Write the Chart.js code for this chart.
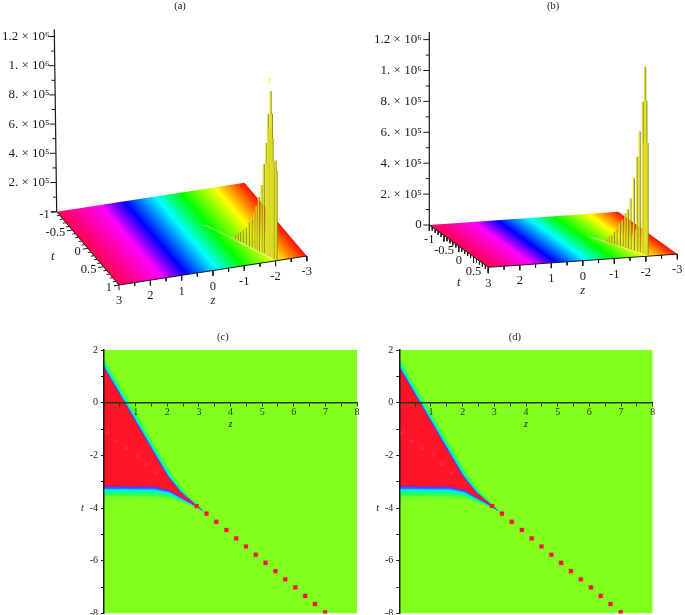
<!DOCTYPE html>
<html>
<head>
<meta charset="utf-8">
<title>Superficies y mapas de densidad</title>
<script src="https://cdn.jsdelivr.net/npm/chart.js@4"></script>
<style>
html, body { margin: 0; background: #fff; }
body { position: relative; width: 685px; height: 615px; overflow: hidden; }
canvas { position: absolute; filter: blur(0.45px); }
</style>
</head>
<body>
<canvas id="panelA" width="340" height="310" style="left:0;top:0"></canvas>
<canvas id="panelB" width="345" height="310" style="left:340px;top:0"></canvas>
<canvas id="panelC" width="305" height="288" style="left:60px;top:330px"></canvas>
<canvas id="panelD" width="320" height="288" style="left:365px;top:330px"></canvas>
<script>
// paneles 3D
const marcasAltura = [0, 1e5, 2e5, 3e5, 4e5, 5e5, 6e5, 7e5, 8e5, 9e5, 1e6, 11e5, 12e5];
const rotulosAlturaA = ['', '', '2. × 10⁵', '', '4. × 10⁵', '', '6. × 10⁵', '', '8. × 10⁵', '', '1. × 10⁶', '', '1.2 × 10⁶'];
const rotulosAlturaB = ['0', '', '2. × 10⁵', '', '4. × 10⁵', '', '6. × 10⁵', '', '8. × 10⁵', '', '1. × 10⁶', '', '1.2 × 10⁶'];
const marcasZ3d = [3, 2.5, 2, 1.5, 1, 0.5, 0, -0.5, -1, -1.5, -2, -2.5, -3];
const marcasT3d = [-1, -0.9, -0.8, -0.7, -0.6, -0.5, -0.4, -0.3, -0.2, -0.1, 0, 0.1, 0.2, 0.3, 0.4, 0.5, 0.6, 0.7, 0.8, 0.9, 1];
const rotulosZ3d = [3, 2, 1, 0, -1, -2, -3];
const rotulosT3dA = [-1, -0.5, 0, 0.5, 1];
const rotulosT3dB = [-1, -0.5, 0, 0.5];
const arcoirisZ = [3, 1.6, 0.85, -0.15, -0.95, -2.05, -3];
const arcoirisColor = ['#ff0050', '#ff00ff', '#0000ff', '#00ffff', '#00ff00', '#ffff00', '#ff1000'];

const picosAZ = [-1.35, -1.40, -1.44, -1.48, -1.53, -1.58, -1.63, -1.67, -1.71, -1.74, -1.79, -1.83, -1.87, -1.88, -1.90, -1.92, -1.94, -1.96, -1.97, -1.99, -2.02, -2.04];
const picosAT = [0.33, 0.37, 0.41, 0.45, 0.50, 0.55, 0.59, 0.64, 0.67, 0.71, 0.75, 0.78, 0.82, 0.84, 0.85, 0.87, 0.89, 0.91, 0.92, 0.94, 0.97, 0.98];
const picosAU = [30000, 51000, 67000, 92000, 119000, 162000, 190000, 245000, 300000, 373000, 463000, 614000, 766000, 633000, 970000, 877000, 1137000, 984000, 822000, 668000, 681000, 610000];
const puntaAZ = [-1.93, -1.93];
const puntaAT = [0.88, 0.88];
const puntaAU = [1190000, 1224000];
const abanicoAZ = [-1.5, -2.0, -2.0, -1.71];
const abanicoAT = [0.45, 0.95, 0.95, 0.67];
const abanicoAU = [0, 0, 200000, 70000];
const columnaAZ = [-1.97, -2.05, -2.05, -1.97];
const columnaAT = [0.92, 1.0, 1.0, 0.92];
const columnaAU = [0, 0, 600000, 640000];
const estelaAZ = [-0.87, -1.42, -1.97];
const estelaAT = [-0.13, 0.39, 0.92];

const picosBZ = [-1.42, -1.46, -1.50, -1.55, -1.59, -1.64, -1.69, -1.73, -1.77, -1.81, -1.87, -1.92, -1.96, -2.01, -2.03, -2.05, -2.07, -2.09, -2.08];
const picosBT = [0.26, 0.30, 0.35, 0.39, 0.43, 0.49, 0.53, 0.58, 0.62, 0.67, 0.72, 0.78, 0.82, 0.87, 0.90, 0.91, 0.93, 0.95, 0.94];
const picosBU = [23000, 39000, 55000, 82000, 103000, 149000, 177000, 225000, 256000, 332000, 469000, 615000, 783000, 982000, 718000, 1214000, 997000, 725000, 640000];
const abanicoBZ = [-1.5, -2.07, -2.07, -1.81];
const abanicoBT = [0.35, 0.93, 0.93, 0.67];
const abanicoBU = [0, 0, 260000, 80000];
const columnaBZ = [-2.03, -2.09, -2.09, -2.03];
const columnaBT = [0.90, 0.97, 0.97, 0.90];
const columnaBU = [0, 0, 550000, 590000];
const estelaBZ = [-1.17, -1.63, -2.09];
const estelaBT = [0, 0.47, 0.95];

// paneles de densidad
const fondoZ = [0, 8, 8, 0];
const fondoT = [2, 2, -8, -8];
const bordeSupZ = [-0.3, 0.64, 1.98, 2.4, 2.92, 3.12];
const bordeSupT = [1.93, 0, -2.75, -3.38, -3.9, -4.1];
const atenuaSup = [1, 1, 1, 0.8, 0.35, 0.1];
const bordeInfZ = [3.12, 2.92, 2.5, 2.08, 1.6, -0.3];
const bordeInfT = [-4.1, -3.93, -3.63, -3.32, -3.17, -3.15];
const atenuaInf = [0.08, 0.12, 0.4, 0.75, 1, 1];
const capasColor = ['#6dff28', '#38ff48', '#08ff90', '#00e8f0', '#2f6cff', '#7a28e8', '#ff1428'];
const capasZ = [0.24, 0.17, 0.115, 0.075, 0.045, 0.02, 0];
const capasT = [0.48, 0.38, 0.28, 0.20, 0.12, 0.06, 0];
const puntosZ = [2.93, 3.24, 3.55, 3.87, 4.18, 4.49, 4.80, 5.11, 5.42, 5.73, 6.05, 6.36, 6.67, 6.99];
const puntosT = [-3.92, -4.21, -4.52, -4.83, -5.15, -5.46, -5.77, -6.08, -6.39, -6.70, -7.01, -7.33, -7.64, -7.95];
const tenuesZ = [0.09, 0.40, 0.72, 1.04, 1.35, 1.67];
const tenuesT = [-1.13, -1.45, -1.74, -2.02, -2.34, -2.66];
const rotulosMapaX = [1, 2, 3, 4, 5, 6, 7, 8];
const rotulosMapaY = [2, 0, -2, -4, -6, -8];

const serif = '"Liberation Serif", serif';
const negro = '#1a1a1a';
const sinAjuste = s => { s.paddingLeft = s.paddingRight = s.paddingTop = s.paddingBottom = 0; };

// textos sueltos colocados con las escalas del grafico
const rotulos = {
    id: 'rotulos',
    afterDraw(chart, args, opts) {
        const ctx = chart.ctx;
        ctx.save();
        ctx.fillStyle = negro;
        ctx.textBaseline = 'middle';
        (opts.items || []).forEach(r => {
            ctx.font = r.font;
            ctx.textAlign = r.align || 'center';
            ctx.fillText(r.text, chart.scales.x.getPixelForValue(r.x) + (r.dx || 0), chart.scales.y.getPixelForValue(r.y) + (r.dy || 0));
        });
        ctx.restore();
    }
};

function proyectar(v, z, t, u = 0) {
    return {
        x: v.ox + v.zx * (3 - z) + v.tx * (t + 1) + v.skew * u,
        y: u - (v.zy * (3 - z) + v.ty * (t + 1)) / v.k
    };
}

function linea(data, color, ancho) {
    return { data, borderColor: color, borderWidth: ancho, pointRadius: 0, fill: false, tension: 0 };
}

function forma(data, color) {
    return { data, backgroundColor: color, borderColor: color, borderWidth: 0, pointRadius: 0, fill: 'shape', tension: 0 };
}

function crearSuperficie(id, v, d) {
    const alto = 310, ancho = document.getElementById(id).width;
    const esquinas = [[3, -1], [-3, -1], [-3, 1], [3, 1]].map(([z, t]) => proyectar(v, z, t));
    const sobreSuelo = (z, t, u) => ({ x: proyectar(v, z, t).x, y: proyectar(v, z, t, u).y });

    // degradado perpendicular a las bandas de color
    const arcoiris = ctx => {
        const { x, y } = ctx.chart.scales;
        if (!x || !y || !ctx.chart.chartArea) return '#fff';
        const px = p => ({ x: x.getPixelForValue(p.x), y: y.getPixelForValue(p.y) });
        const a = px(proyectar(v, 3, -1)), b = px(proyectar(v, -3, -1)), c = px(proyectar(v, 3, 1));
        const tl = Math.hypot(c.x - a.x, c.y - a.y);
        const nx = -(c.y - a.y) / tl, ny = (c.x - a.x) / tl;
        const largo = (b.x - a.x) * nx + (b.y - a.y) * ny;
        if (![a.x, a.y, nx, ny, largo].every(Number.isFinite)) return '#fff';
        const g = ctx.chart.ctx.createLinearGradient(a.x, a.y, a.x + nx * largo, a.y + ny * largo);
        arcoirisZ.forEach((z, i) => g.addColorStop((3 - z) / 6, arcoirisColor[i]));
        return g;
    };

    const marcasZ = [], marcasT = [], marcasU = [];
    marcasZ3d.forEach(z => marcasZ.push(proyectar(v, z, 1), proyectar(v, z + d.marcaZ[0], 1 + d.marcaZ[1], d.marcaZ[2] * (Number.isInteger(z) ? 1.5 : 1)), { x: null, y: null }));
    marcasT3d.forEach(t => {
        const larga = Number.isInteger(t * 2) ? 1.7 : 1;
        marcasT.push(proyectar(v, 3, t), proyectar(v, 3 + d.marcaT[0] * larga, t + d.marcaT[1], d.marcaT[2] * larga), { x: null, y: null });
    });
    marcasAltura.forEach((u, i) => {
        const p = proyectar(v, 3, -1, u);
        marcasU.push(p, { x: p.x - (i % 2 ? 3.5 : 6), y: p.y }, { x: null, y: null });
    });

    const picoClaro = [], picoOscuro = [];
    d.picosZ.forEach((z, i) => {
        const b = sobreSuelo(z, d.picosT[i], 0), c = sobreSuelo(z, d.picosT[i], d.picosU[i]);
        picoOscuro.push({ x: b.x + 0.9, y: b.y }, { x: c.x + 0.9, y: c.y }, { x: null, y: null });
        picoClaro.push(b, c, { x: null, y: null });
    });
    const estela = d.estelaZ.map((z, i) => proyectar(v, z, d.estelaT[i]));

    // en orden de pintado, de atras hacia delante
    const capas = [
        forma(esquinas, arcoiris),
        linea([proyectar(v, 3, -1), proyectar(v, 3, 1), proyectar(v, -3, 1)], negro, 1),
        linea(marcasZ, negro, 1),
        linea(marcasT, negro, 1),
        linea(estela, 'rgba(255,255,225,0.4)', 1.4),
        linea(estela.slice(1), 'rgba(255,255,225,0.45)', 2),
        forma(d.abanicoZ.map((z, i) => sobreSuelo(z, d.abanicoT[i], d.abanicoU[i])), 'rgba(240,240,70,0.5)'),
        forma(d.columnaZ.map((z, i) => sobreSuelo(z, d.columnaT[i], d.columnaU[i])), '#d2d22a'),
        linea(picoOscuro, '#8c8c04', 1.2),
        linea(picoClaro, '#dede28', 1.2),
        linea([proyectar(v, 3, -1), proyectar(v, 3, -1, 1.25e6)], negro, 1.2),
        linea(marcasU, negro, 1)
    ];
    if (d.puntaZ) capas.push(linea(d.puntaZ.map((z, i) => sobreSuelo(z, d.puntaT[i], d.puntaU[i])), '#f6f650', 1.6));

    const items = [{ text: d.titulo, x: d.tituloX, y: (v.oy - 6) / v.k, font: '10.5px ' + serif }];
    rotulosZ3d.forEach(z => {
        const p = proyectar(v, z, 1);
        items.push({ text: String(z), x: p.x, y: p.y, dy: 16, font: d.fuente + ' ' + serif });
    });
    d.rotulosT.forEach(t => {
        const p = proyectar(v, 3, t);
        items.push({ text: String(t), x: p.x, y: p.y, dx: d.rotuloT[0], dy: d.rotuloT[1], align: d.rotuloT[2], font: d.fuente + ' ' + serif });
    });
    const pz = proyectar(v, 0, 1), pt = proyectar(v, 3, 0);
    items.push({ text: 'z', x: pz.x, y: pz.y, dy: 30, font: 'italic ' + d.fuente + ' ' + serif });
    items.push({ text: 't', x: pt.x, y: pt.y, dx: d.letraT[0], dy: d.letraT[1], font: 'italic ' + d.fuente + ' ' + serif });

    return new Chart(document.getElementById(id), {
        type: 'line',
        plugins: [rotulos],
        data: { datasets: capas.reverse() },
        options: {
            responsive: false,
            animation: false,
            layout: { padding: 0 },
            plugins: { legend: { display: false }, tooltip: { enabled: false }, rotulos: { items } },
            scales: {
                x: { type: 'linear', min: 0, max: ancho, display: false },
                y: {
                    type: 'linear',
                    min: (v.oy - alto) / v.k,
                    max: v.oy / v.k,
                    // los rotulos terminan a la izquierda de las marcas
                    position: { x: d.finRotulos },
                    border: { display: false },
                    grid: { drawOnChartArea: false, drawTicks: false },
                    afterFit: s => { s.width = 0; sinAjuste(s); },
                    afterBuildTicks: s => { s.ticks = marcasAltura.map(value => ({ value })); },
                    ticks: {
                        autoSkip: false,
                        padding: 0,
                        z: 1,
                        color: negro,
                        font: { family: serif, size: 13 },
                        callback: (val, i) => d.rotulosAltura[i]
                    }
                }
            }
        }
    });
}

function crearMapa(id, yAncho, padDer, titulo, tituloZ) {
    const mancha = capasColor.map((color, c) => {
        const sup = bordeSupZ.map((z, i) => ({ x: z + capasZ[c] * atenuaSup[i], y: bordeSupT[i] }));
        const inf = bordeInfZ.map((z, i) => ({ x: z, y: bordeInfT[i] - capasT[c] * atenuaInf[i] }));
        return forma(sup.concat(inf), color);
    });
    const capas = [forma(fondoZ.map((z, i) => ({ x: z, y: fondoT[i] })), '#82ff1c')].concat(mancha);
    capas.push({
        data: tenuesZ.map((z, i) => ({ x: z, y: tenuesT[i] })),
        showLine: false, pointStyle: 'rect', pointRadius: 2.4, pointBorderWidth: 0,
        pointBackgroundColor: 'rgba(255,70,130,0.35)'
    });
    capas.push({
        data: puntosZ.map((z, i) => ({ x: z, y: puntosT[i] })),
        showLine: false, pointStyle: 'rect', pointRadius: 2.9, pointBorderWidth: 0.5,
        pointBackgroundColor: '#ff1030', pointBorderColor: 'rgba(220,70,110,0.6)'
    });

    const items = [
        { text: titulo, x: tituloZ, y: 2.47, font: '10.5px ' + serif },
        { text: 'z', x: 4, y: -0.83, font: 'italic 10px ' + serif },
        { text: 't', x: -0.68, y: -4, font: 'italic 10px ' + serif }
    ];

    return new Chart(document.getElementById(id), {
        type: 'line',
        plugins: [rotulos],
        data: { datasets: capas.reverse() },
        options: {
            responsive: false,
            animation: false,
            layout: { padding: { top: 20, bottom: 0, right: padDer, left: 0 } },
            plugins: { legend: { display: false }, tooltip: { enabled: false }, rotulos: { items } },
            scales: {
                x: {
                    type: 'linear', min: 0, max: 8,
                    position: { y: 0 },
                    border: { color: '#1c3c00', width: 1.5, z: 1 },
                    grid: { drawOnChartArea: false, drawTicks: true, tickLength: 3, color: '#1c3c00', z: 1 },
                    afterFit: s => { s.height = 0; sinAjuste(s); },
                    ticks: {
                        stepSize: 0.5, autoSkip: false, maxRotation: 0, padding: 1, color: '#1c3c00', z: 1,
                        font: { family: serif, size: 10 },
                        callback: v => rotulosMapaX.includes(v) ? String(v) : ''
                    }
                },
                y: {
                    type: 'linear', min: -8, max: 2,
                    border: { color: negro, width: 1.5, z: 1 },
                    grid: { drawOnChartArea: false, drawTicks: true, tickLength: 3, color: negro, z: 1 },
                    afterFit: s => { s.width = yAncho; sinAjuste(s); },
                    ticks: {
                        stepSize: 1, autoSkip: false, padding: 3, color: negro, z: 1,
                        font: { family: serif, size: 10 },
                        callback: v => rotulosMapaY.includes(v) ? String(v) : ''
                    }
                }
            }
        }
    });
}

crearSuperficie('panelA',
    { ox: 56.7, oy: 211.7, zx: 31.3, zy: -4.83, tx: 31.15, ty: 36.65, k: 29.2 / 2e5, skew: -2.4 / 1.25e6 },
    {
        titulo: '(a)', tituloX: 180, fuente: '12.5px', finRotulos: 49.5,
        rotulosAltura: rotulosAlturaA, rotulosT: rotulosT3dA, rotuloT: [-7, 3, 'right'], letraT: [-35, 8],
        marcaZ: [0, 0, -3.5 / (29.2 / 2e5)], marcaT: [0.1, 0, 0],
        picosZ: picosAZ, picosT: picosAT, picosU: picosAU,
        puntaZ: puntaAZ, puntaT: puntaAT, puntaU: puntaAU,
        abanicoZ: abanicoAZ, abanicoT: abanicoAT, abanicoU: abanicoAU,
        columnaZ: columnaAZ, columnaT: columnaAT, columnaU: columnaAU,
        estelaZ: estelaAZ, estelaT: estelaAT
    });

crearSuperficie('panelB',
    { ox: 89.3, oy: 225, zx: 31.5, zy: -2.2, tx: 29.5, ty: 21.15, k: 30.9 / 2e5, skew: 0 },
    {
        titulo: '(b)', tituloX: 213, fuente: '12.5px', finRotulos: 81.7,
        rotulosAltura: rotulosAlturaB, rotulosT: rotulosT3dB, rotuloT: [0, 15, 'center'], letraT: [0, 37],
        marcaZ: [0, 0, -3.5 / (30.9 / 2e5)], marcaT: [0, 0, -3.5 / (30.9 / 2e5)],
        picosZ: picosBZ, picosT: picosBT, picosU: picosBU,
        abanicoZ: abanicoBZ, abanicoT: abanicoBT, abanicoU: abanicoBU,
        columnaZ: columnaBZ, columnaT: columnaBT, columnaU: columnaBU,
        estelaZ: estelaBZ, estelaT: estelaBT
    });

crearMapa('panelC', 44, 8, '(c)', 3.76);
crearMapa('panelD', 34.3, 32.3, '(d)', 3.65);
</script>
</body>
</html>
